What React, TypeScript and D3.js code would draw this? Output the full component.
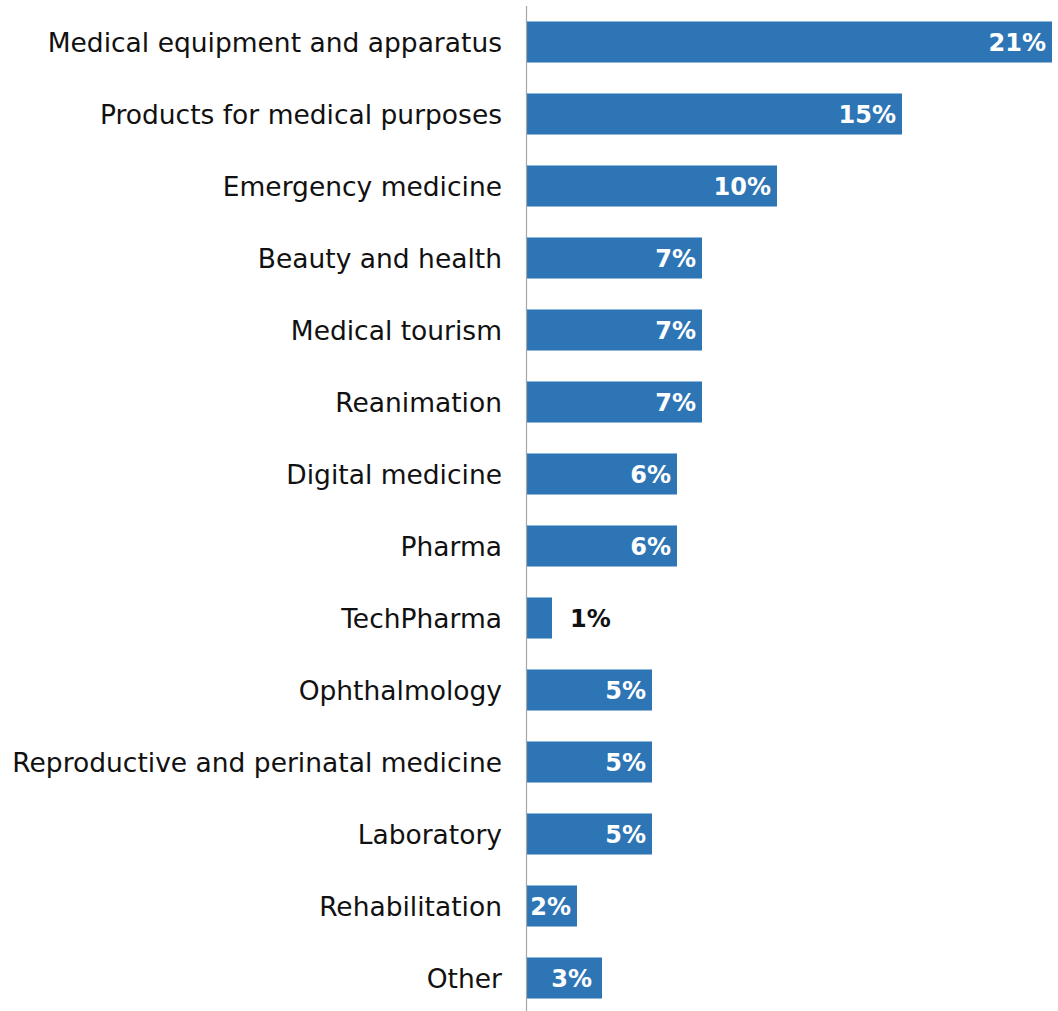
import React, { useEffect, useRef } from 'react';
import * as d3 from 'd3';

const categories = [
  'Medical equipment and apparatus',
  'Products for medical purposes',
  'Emergency medicine',
  'Beauty and health',
  'Medical tourism',
  'Reanimation',
  'Digital medicine',
  'Pharma',
  'TechPharma',
  'Ophthalmology',
  'Reproductive and perinatal medicine',
  'Laboratory',
  'Rehabilitation',
  'Other',
];

const shares = [21, 15, 10, 7, 7, 7, 6, 6, 1, 5, 5, 5, 2, 3];

const width = 1058;
const height = 1011;

const App: React.FC = () => {
  const svgRef = useRef<SVGSVGElement | null>(null);

  useEffect(() => {
    if (!svgRef.current) return;
    document.body.style.margin = '0';

    const svg = d3.select(svgRef.current);
    svg.selectAll('*').remove();

    const rows = categories.map((c, i) => ({ name: c, value: shares[i] }));

    const x = d3.scaleLinear().domain([0, 21]).range([527, 1052]);
    const y = d3
      .scaleBand<string>()
      .domain(categories)
      .range([6, 1014])
      .paddingInner(0.43)
      .paddingOuter(0.215);

    // bars
    svg
      .selectAll('rect.bar')
      .data(rows)
      .enter()
      .append('rect')
      .attr('class', 'bar')
      .attr('x', x(0))
      .attr('y', (d) => y(d.name)!)
      .attr('width', (d) => x(d.value) - x(0))
      .attr('height', y.bandwidth())
      .attr('fill', '#2E75B6');

    // axis line
    svg
      .append('line')
      .attr('x1', x(0) - 0.5)
      .attr('x2', x(0) - 0.5)
      .attr('y1', 6)
      .attr('y2', height)
      .attr('stroke', '#a6a6a6')
      .attr('stroke-width', 1.2);

    // category labels
    svg
      .selectAll('text.cat')
      .data(rows)
      .enter()
      .append('text')
      .attr('class', 'cat')
      .attr('x', x(0) - 25)
      .attr('y', (d) => y(d.name)! + y.bandwidth() / 2)
      .attr('dy', '0.36em')
      .attr('text-anchor', 'end')
      .attr('font-family', 'DejaVu Sans, sans-serif')
      .attr('font-size', 26.5)
      .attr('fill', '#111')
      .text((d) => d.name);

    // value labels
    svg
      .selectAll('text.val')
      .data(rows)
      .enter()
      .append('text')
      .attr('class', 'val')
      .attr('x', (d) => (d.value < 2 ? x(d.value) + 18 : x(d.value) - (d.value === 3 ? 10 : 6)))
      .attr('y', (d) => y(d.name)! + y.bandwidth() / 2)
      .attr('dy', '0.36em')
      .attr('text-anchor', (d) => (d.value < 2 ? 'start' : 'end'))
      .attr('font-family', 'DejaVu Sans, sans-serif')
      .attr('font-weight', 'bold')
      .attr('font-size', 24)
      .attr('fill', (d) => (d.value < 2 ? '#111' : '#fff'))
      .text((d) => `${d.value}%`);
  }, []);

  return (
    <div>
      <svg ref={svgRef} width={width} height={height} style={{ display: 'block' }}></svg>
    </div>
  );
};

export default App;
